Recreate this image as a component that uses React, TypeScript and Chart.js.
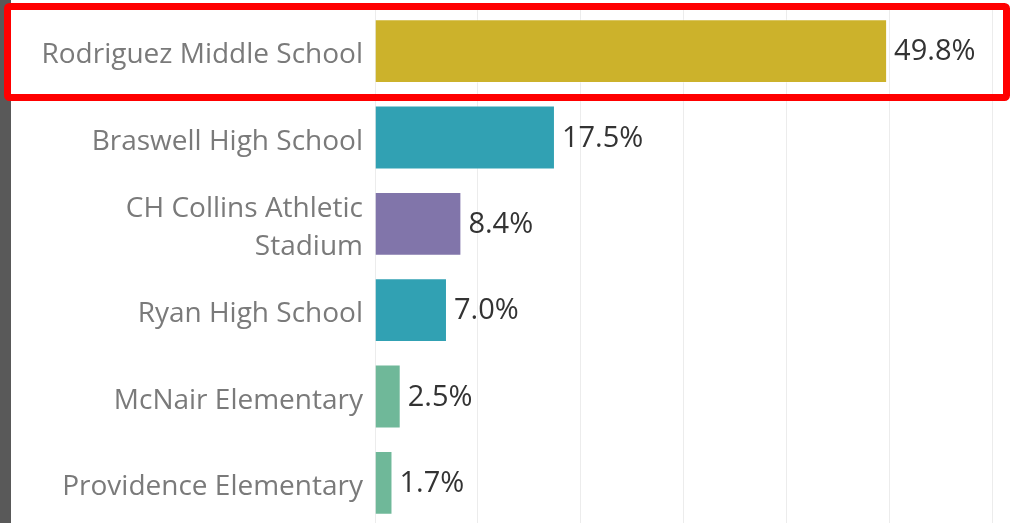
import React, { useEffect, useRef } from 'react';
import { Chart, registerables } from 'chart.js';

Chart.register(...registerables);

const categories: (string | string[])[] = [
  'Rodriguez Middle School',
  'Braswell High School',
  ['CH Collins Athletic', 'Stadium'],
  'Ryan High School',
  'McNair Elementary',
  'Providence Elementary',
];
const shares = [49.8, 17.5, 8.4, 7.0, 2.5, 1.7];
const valueLabels = ['49.8%', '17.5%', '8.4%', '7.0%', '2.5%', '1.7%'];
const barColors = ['#ccb22b', '#31a1b3', '#8175aa', '#31a1b3', '#6fb899', '#6fb899'];
const axisMin = 0;
const axisMax = 60;
const tickStep = 10;
const highlightIndex = 0;

const FONT = '"Open Sans", "Noto Sans", sans-serif';

const backgroundPlugin = {
  id: 'bg',
  beforeDraw(chart: any) {
    const { ctx, width, height } = chart;
    ctx.save();
    ctx.fillStyle = '#ffffff';
    ctx.fillRect(0, 0, width, height);
    ctx.fillStyle = '#595959';
    ctx.fillRect(0, 0, 11, height);
    ctx.restore();
  },
};

const categoryLabelPlugin = {
  id: 'categoryLabels',
  afterDraw(chart: any) {
    const { ctx, chartArea } = chart;
    const y = chart.scales.y;
    const lineH = 38;
    ctx.save();
    ctx.font = `28px ${FONT}`;
    ctx.fillStyle = '#7a7a7a';
    ctx.textAlign = 'right';
    ctx.textBaseline = 'alphabetic';
    categories.forEach((label, i) => {
      const lines = Array.isArray(label) ? label : [label];
      const c = y.getPixelForValue(i);
      const first = c + 12 - ((lines.length - 1) * lineH) / 2;
      lines.forEach((ln, k) => {
        ctx.fillText(ln, chartArea.left - 12, first + k * lineH);
      });
    });
    ctx.restore();
  },
};

const valueLabelPlugin = {
  id: 'valueLabels',
  afterDatasetsDraw(chart: any) {
    const { ctx } = chart;
    const meta = chart.getDatasetMeta(0);
    ctx.save();
    ctx.font = `29px ${FONT}`;
    ctx.fillStyle = '#333333';
    ctx.textAlign = 'left';
    ctx.textBaseline = 'middle';
    meta.data.forEach((bar: any, i: number) => {
      ctx.fillText(valueLabels[i], bar.x + 7, bar.y + 1);
    });
    ctx.restore();
  },
};

const highlightPlugin = {
  id: 'highlight',
  afterDraw(chart: any) {
    const { ctx, chartArea } = chart;
    const y = chart.scales.y;
    const band = (y.bottom - y.top) / categories.length;
    const c = y.getPixelForValue(highlightIndex);
    const top = c - band / 2 - 1.5;
    const bottom = c + band / 2 + 3.2;
    const left = 7.5;
    const right = chartArea.right + 14.5;
    ctx.save();
    ctx.strokeStyle = '#ff0000';
    ctx.lineWidth = 7;
    ctx.lineJoin = 'round';
    ctx.beginPath();
    (ctx as any).roundRect
      ? (ctx as any).roundRect(left, top, right - left, bottom - top, 2)
      : ctx.rect(left, top, right - left, bottom - top);
    ctx.stroke();
    ctx.restore();
  },
};

export default function App() {
  const ref = useRef<HTMLCanvasElement>(null);

  useEffect(() => {
    document.body.style.margin = '0';
    document.body.style.overflow = 'hidden';
    const canvas = ref.current;
    if (!canvas) return;
    const chart = new Chart(canvas, {
      type: 'bar',
      data: {
        labels: categories as any,
        datasets: [
          {
            data: shares,
            backgroundColor: barColors,
            borderColor: 'rgba(255,255,255,0.35)',
            borderWidth: 1,
            categoryPercentage: 1,
            barPercentage: 0.74,
          },
        ],
      },
      options: {
        indexAxis: 'y',
        animation: false,
        responsive: false,
        devicePixelRatio: 1,
        layout: { padding: { top: 8, right: 23, left: 0, bottom: 0 } },
        plugins: {
          legend: { display: false },
          tooltip: { enabled: false },
        },
        scales: {
          x: {
            min: axisMin,
            max: axisMax,
            ticks: { display: false, stepSize: tickStep },
            grid: { color: '#ececec', lineWidth: 1, drawTicks: false },
            border: { display: false },
            afterFit(scale: any) {
              scale.height = 0;
              scale.paddingLeft = 0;
              scale.paddingRight = 0;
            },
          },
          y: {
            ticks: { display: false },
            grid: { display: false, drawTicks: false },
            border: { display: false },
            afterFit(scale: any) {
              scale.width = 375;
              scale.paddingTop = 0;
              scale.paddingBottom = 0;
            },
          },
        },
      },
      plugins: [backgroundPlugin, valueLabelPlugin, categoryLabelPlugin, highlightPlugin],
    });
    return () => chart.destroy();
  }, []);

  return (
    <div style={{ width: 1015, height: 523, overflow: 'hidden', position: 'relative' }}>
      <canvas ref={ref} width={1015} height={526} style={{ display: 'block' }} />
    </div>
  );
}
